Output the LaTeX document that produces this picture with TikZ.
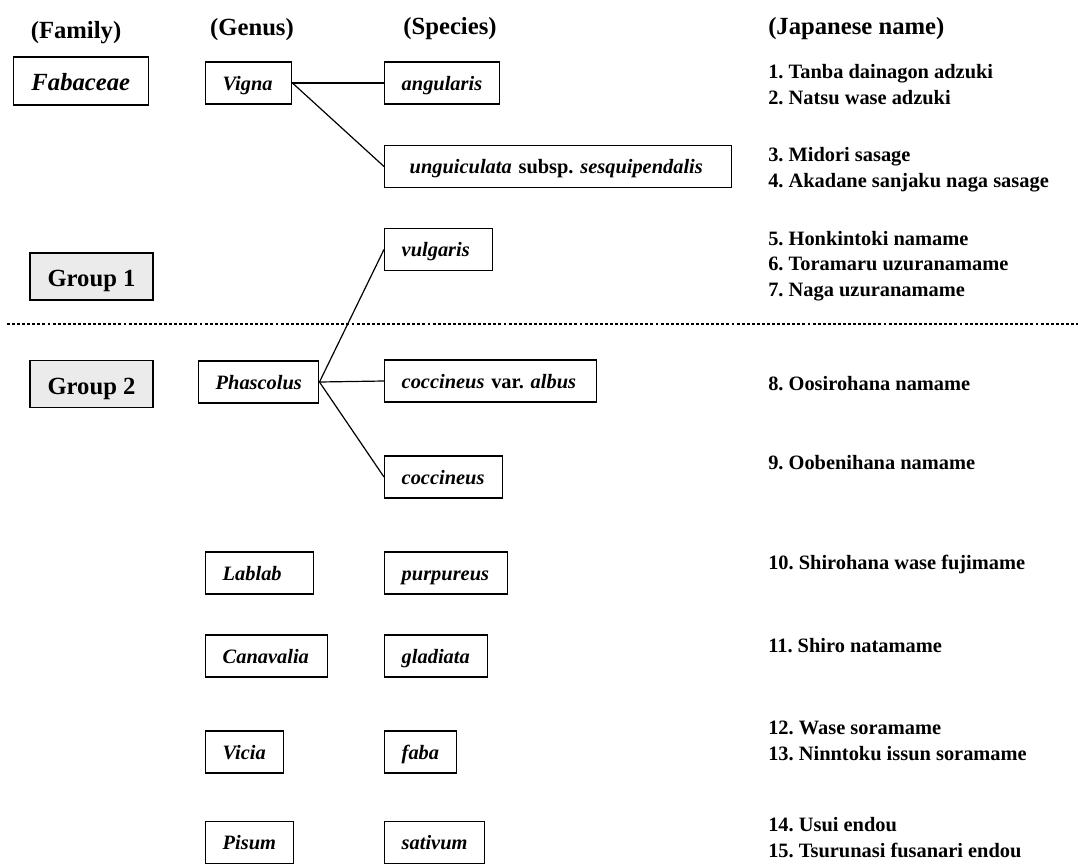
\documentclass[tikz,border=0pt]{standalone}
\usepackage{fontspec}
\setmainfont{Liberation Serif}
\frenchspacing
\definecolor{grpfill}{HTML}{EBEBEB}
\begin{document}
\frenchspacing
\begin{tikzpicture}[x=0.75pt,y=-0.75pt,
  every node/.style={inner sep=0pt},
  hd/.style={anchor=base, font=\fontsize{18.5}{22}\selectfont\bfseries},
  box/.style={draw, line width=1.1pt, anchor=west, minimum height=31.5pt,
    inner xsep=12.75pt, inner ysep=0pt, text width=#1, align=left,
    font=\fontsize{15.3}{18}\selectfont\bfseries\itshape,
    text height=10.5pt, text depth=0pt},
  fam/.style={draw, line width=1.1pt, minimum width=101.25pt, minimum height=36pt,
    font=\fontsize{18.5}{22}\selectfont\bfseries\itshape, text height=13.5pt, text depth=0pt},
  grp/.style={draw, line width=1.1pt, fill=grpfill, minimum width=92.25pt, minimum height=35.25pt,
    font=\fontsize{18.5}{22}\selectfont\bfseries, text height=15pt, text depth=0pt},
  jp/.style={anchor=base west, align=left, font=\fontsize{15.3}{19.1}\selectfont\bfseries},
  link/.style={line width=0.9pt},
  dotline/.style={line width=1.6pt, dash pattern=on 2.2pt off 1.6pt}
]
\useasboundingbox (0,0) rectangle (1078,864);

% headings
\node[hd] (hfam) at (76,38) {(Family)};
\node[hd] (hgen) at (252,35) {(Genus)};
\node[hd] (hspe) at (450,34) {(Species)};
\node[hd, anchor=base west] (hjap) at (768,34) {(Japanese name)};

% family and groups
\node[fam] (fabaceae) at (80.8,81) {Fabaceae};
\node[grp] (group1) at (91.5,276.5) {Group 1};
\node[grp] (group2) at (91.5,384) {Group 2};

% dotted separator
\coordinate (dl) at (7,324);
\coordinate (dr) at (1078,324);
\draw[dotline] (dl) -- (dr);

% genus boxes
\node[box=39pt] (vigna) at (205,83) {Vigna};
\node[box=64.5pt] (phascolus) at (198,382) {Phascolus};
\node[box=55.5pt] (lablab) at (205,573) {Lablab};
\node[box=66pt] (canavalia) at (205,656) {Canavalia};
\node[box=33pt] (vicia) at (205,752) {Vicia};
\node[box=40.5pt] (pisum) at (205,842.5) {Pisum};

% species boxes
\node[box=60.75pt] (angularis) at (384,83) {angularis};
\node[box=234.75pt] (unguiculata) at (384,166.5) {\hspace*{6pt}unguiculata \upshape subsp. \itshape sesquipendalis};
\node[box=55.5pt] (vulgaris) at (384,249.5) {vulgaris};
\node[box=133.5pt] (cvalbus) at (384,381) {coccineus \upshape var. \itshape albus};
\node[box=63pt] (coccineus) at (384,477) {coccineus};
\node[box=66.75pt] (purpureus) at (384,573) {purpureus};
\node[box=51.75pt] (gladiata) at (384,656) {gladiata};
\node[box=28.5pt] (faba) at (384,752) {faba};
\node[box=49.5pt] (sativum) at (384,842.5) {sativum};

% connectors
\draw[link] (vigna.east) -- (angularis.west);
\draw[link] (vigna.east) -- (unguiculata.west);
\draw[link] (phascolus.east) -- (vulgaris.west);
\draw[link] (phascolus.east) -- (cvalbus.west);
\draw[link] (phascolus.east) -- (coccineus.west);

% Japanese names (anchor = baseline of the last line)
\node[jp] (jp1) at (768,104) {1. Tanba dainagon adzuki\\2. Natsu wase adzuki};
\node[jp] (jp3) at (768,187) {3. Midori sasage\\4. Akadane sanjaku naga sasage};
\node[jp] (jp5) at (768,296) {5. Honkintoki namame\\6. Toramaru uzuranamame\\7. Naga uzuranamame};
\node[jp] (jp8) at (768,390) {8. Oosirohana namame};
\node[jp] (jp9) at (768,469) {9. Oobenihana namame};
\node[jp] (jp10) at (768,569) {10. Shirohana wase fujimame};
\node[jp] (jp11) at (768,652) {11. Shiro natamame};
\node[jp] (jp12) at (768,760) {12. Wase soramame\\13. Ninntoku issun soramame};
\node[jp] (jp14) at (768,857) {14. Usui endou\\15. Tsurunasi fusanari endou};
\end{tikzpicture}
\end{document}
